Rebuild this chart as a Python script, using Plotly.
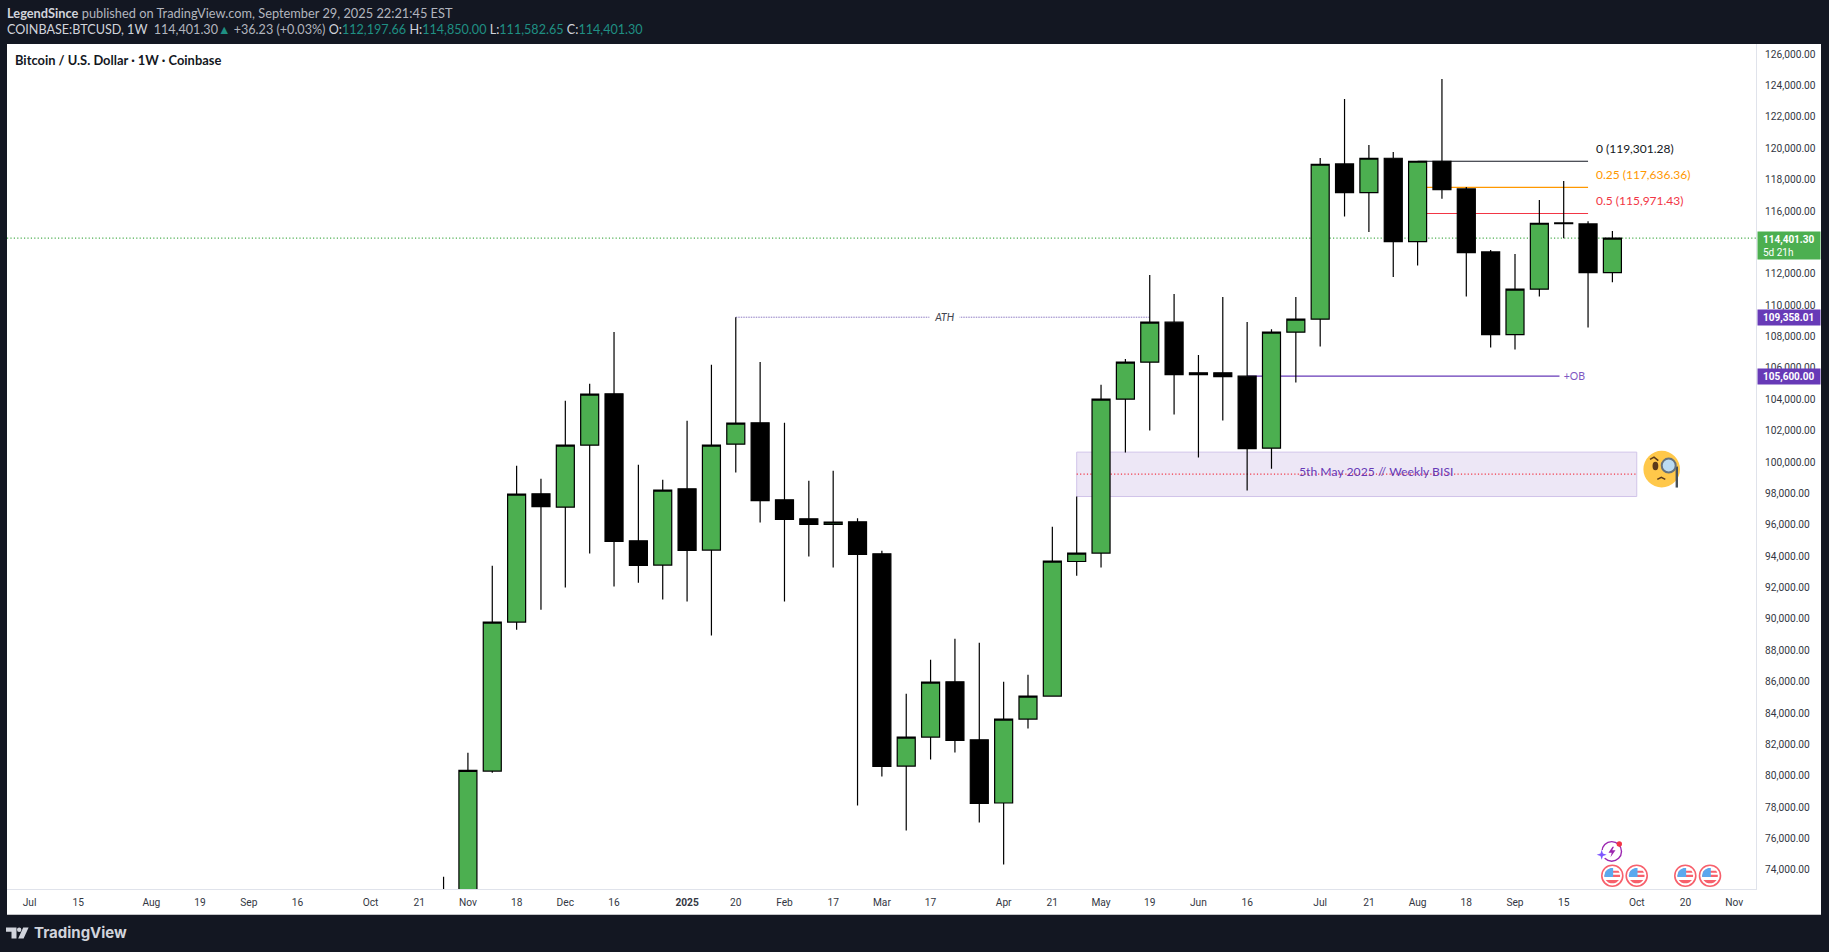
import math
import plotly.graph_objects as go

# weekly candles (Oct 28 body and Nov 4 open/low sit below the visible range)
dates = [
    "2024-10-28", "2024-11-04", "2024-11-11", "2024-11-18", "2024-11-25",
    "2024-12-02", "2024-12-09", "2024-12-16", "2024-12-23", "2024-12-30",
    "2025-01-06", "2025-01-13", "2025-01-20", "2025-01-27",
    "2025-02-03", "2025-02-10", "2025-02-17", "2025-02-24",
    "2025-03-03", "2025-03-10", "2025-03-17", "2025-03-24", "2025-03-31",
    "2025-04-07", "2025-04-14", "2025-04-21", "2025-04-28",
    "2025-05-05", "2025-05-12", "2025-05-19", "2025-05-26",
    "2025-06-02", "2025-06-09", "2025-06-16", "2025-06-23", "2025-06-30",
    "2025-07-07", "2025-07-14", "2025-07-21", "2025-07-28",
    "2025-08-04", "2025-08-11", "2025-08-18", "2025-08-25",
    "2025-09-01", "2025-09-08", "2025-09-15", "2025-09-22", "2025-09-29",
]
opens = [
    67000, 68775, 80423, 89920, 98097,
    97249, 101201, 104470, 95101, 93552,
    98416, 94509, 101265, 102622,
    97714, 96504, 96140, 96312,
    94273, 80742, 82590, 86115, 82418,
    78384, 83737, 85203, 93782,
    94317, 104133, 106491, 109040,
    105809, 105809, 105599, 101010, 108403,
    109231, 119129, 117300, 119493,
    114177, 119301, 117536, 113521,
    108250, 111143, 115369, 115305, 112197.66,
]
highs = [
    73686, 81590, 93508, 99882, 99053,
    104024, 105108, 108422, 99945, 98989,
    102750, 106319, 109358, 106510,
    102622, 98925, 99563, 96548,
    94464, 85350, 87517, 88855, 88600,
    86115, 86561, 95994, 97925,
    105044, 106701, 112055, 110844,
    106956, 110653, 109059, 108594, 110653,
    119512, 123272, 120340, 119894,
    119321, 124547, 117664, 113648,
    113393, 116835, 118046, 115477, 114850.00,
]
lows = [
    66800, 66800, 80315, 89429, 90704,
    92125, 94292, 92189, 92424, 91360,
    91232, 89066, 99454, 96268,
    91232, 94101, 93400, 78231,
    80079, 76637, 81162, 81609, 77147,
    74470, 83138, 85184, 92871,
    93400, 100729, 102131, 103151,
    100411, 102769, 98307, 99690, 105191,
    107485, 115771, 114795, 111927,
    112648, 116918, 110672, 107421,
    107294, 110672, 114394, 108696, 111582.65,
]
closes = [
    68775, 80461, 89920, 98078, 97287,
    101201, 104451, 95057, 93527, 98333,
    94483, 101201, 102603, 97670,
    96459, 96140, 96293, 94228,
    80716, 82590, 86095, 82374, 78359,
    83737, 85203, 93807, 94317,
    104133, 106491, 109040, 105700,
    105700, 105573, 100984, 108403, 109231,
    119110, 117300, 119493, 114177,
    119301, 117492, 113476, 108250,
    111143, 115350, 115324, 112201, 114401.30,
]

# 114,000 is left out, the reference hides it behind the last price tag
y_ticks = [
    74000, 76000, 78000, 80000, 82000, 84000, 86000, 88000, 90000, 92000,
    94000, 96000, 98000, 100000, 102000, 104000, 106000, 108000, 110000,
    112000, 116000, 118000, 120000, 122000, 124000, 126000,
]
x_tick_dates = [
    "2024-07-01", "2024-07-15", "2024-08-05", "2024-08-19", "2024-09-02",
    "2024-09-16", "2024-10-07", "2024-10-21", "2024-11-04", "2024-11-18",
    "2024-12-02", "2024-12-16", "2025-01-06", "2025-01-20", "2025-02-03",
    "2025-02-17", "2025-03-03", "2025-03-17", "2025-04-07", "2025-04-21",
    "2025-05-05", "2025-05-19", "2025-06-02", "2025-06-16", "2025-07-07",
    "2025-07-21", "2025-08-04", "2025-08-18", "2025-09-01", "2025-09-15",
    "2025-10-06", "2025-10-20", "2025-11-03",
]
x_tick_labels = [
    "Jul", "15", "Aug", "19", "Sep", "16", "Oct", "21", "Nov", "18", "Dec", "16",
    "<b>2025</b>", "20", "Feb", "17", "Mar", "17", "Apr", "21", "May", "19",
    "Jun", "16", "Jul", "21", "Aug", "18", "Sep", "15", "Oct", "20", "Nov",
]

fib_levels = [119301.28, 117636.36, 115971.43]
fib_labels = ["0 (119,301.28)", "0.25 (117,636.36)", "0.5 (115,971.43)"]
fib_colors = ["#131722", "#ff9800", "#f23645"]
last_price = 114401.30
ath_price = 109358.01
ob_price = 105600.00
bisi_top = 100755
bisi_bottom = 97925
bisi_mid = 99352

W, H = 1829, 952
LEFT, RIGHT, TOP, BOTTOM = 7, 1756, 44, 889.3
DARK = "#131722"
FONT = "Lato"


def px(x):
    return (x - LEFT) / (RIGHT - LEFT)


def py(y):
    return 1 - (y - TOP) / (BOTTOM - TOP)


def pixel_shape(kind, x0, y0, x1, y1, fill=None, line=None, width=0, layer="above"):
    return dict(
        type=kind, xref="paper", yref="paper", layer=layer,
        x0=px(x0), y0=py(y0), x1=px(x1), y1=py(y1),
        fillcolor=fill or "rgba(0,0,0,0)",
        line=dict(color=line or "rgba(0,0,0,0)", width=width),
    )


def pixel_poly(points, fill=None, line=None, width=0, close=True):
    path = "M " + " L ".join(f"{px(x):.6f},{py(y):.6f}" for x, y in points)
    if close:
        path += " Z"
    return dict(
        type="path", xref="paper", yref="paper", layer="above", path=path,
        fillcolor=fill or "rgba(0,0,0,0)",
        line=dict(color=line or "rgba(0,0,0,0)", width=width),
    )


def circle(cx, cy, r, fill=None, line=None, width=0):
    return pixel_shape("circle", cx - r, cy - r, cx + r, cy + r, fill, line, width)


def disc_band(cx, cy, r, y0, y1, x0=None, x1=None, fill="#f23645"):
    # slice of a disc between two heights, optionally limited on the left/right
    points = []
    steps = 6
    heights = [y0 + (y1 - y0) * i / steps for i in range(steps + 1)]
    for h in heights:
        half = math.sqrt(max(r * r - h * h, 0))
        points.append((cx + (min(half, x1) if x1 is not None else half), cy + h))
    for h in reversed(heights):
        half = math.sqrt(max(r * r - h * h, 0))
        points.append((cx + (max(-half, x0) if x0 is not None else -half), cy + h))
    return pixel_poly(points, fill=fill)


def flag_icon(cx, cy):
    return [
        circle(cx, cy, 10.5, fill="#ffffff", line="#f7606c", width=1.6),
        disc_band(cx, cy, 7.8, -5, -3, fill="#f7606c"),
        disc_band(cx, cy, 7.8, -1, 1.2, fill="#f7606c"),
        disc_band(cx, cy, 7.8, 4.2, 7.6, fill="#f7606c"),
        disc_band(cx, cy, 7.8, -7.6, 1.2, x1=0.8, fill="#5ba8ee"),
    ]


fig = go.Figure()
fig.add_trace(
    go.Candlestick(
        x=dates, open=opens, high=highs, low=lows, close=closes,
        increasing=dict(fillcolor="#4caf50", line=dict(color="#000000", width=1.2)),
        decreasing=dict(fillcolor="#000000", line=dict(color="#000000", width=1.2)),
        whiskerwidth=0, hoverinfo="skip", showlegend=False,
    )
)

shapes = [
    # white chart frame including the price and time scales
    pixel_shape("rect", LEFT, TOP, 1821, 915, fill="#ffffff", layer="below"),
    dict(type="line", xref="paper", yref="y", layer="below", x0=0, x1=1,
         y0=last_price, y1=last_price, line=dict(color="#4caf50", width=1.2, dash="1.2px,2.2px")),
    dict(type="rect", xref="x", yref="y", layer="below", x0="2025-04-28", x1="2025-10-06",
         y0=bisi_bottom, y1=bisi_top, fillcolor="#ede7f6", line=dict(color="#d1c4e9", width=1)),
    dict(type="line", xref="x", yref="y", layer="below", x0="2025-04-28", x1="2025-10-06",
         y0=bisi_mid, y1=bisi_mid, line=dict(color="#f23645", width=1.2, dash="1.2px,2.2px")),
    dict(type="line", xref="x", yref="y", layer="below", x0="2025-01-20", x1="2025-05-19",
         y0=ath_price, y1=ath_price, line=dict(color="#8e7cc3", width=1, dash="1.5px,1px")),
    dict(type="line", xref="x", yref="y", layer="below", x0="2025-06-16", x1="2025-09-22",
         y0=ob_price, y1=ob_price, line=dict(color="#673ab7", width=1.2)),
]
for level, color in zip(fib_levels, fib_colors):
    shapes.append(
        dict(type="line", xref="x", yref="y", layer="below", x0="2025-08-04", x1="2025-09-22",
             y0=level, y1=level, line=dict(color=color, width=1.2))
    )

# monocle face next to the zone
shapes += [
    circle(1661.7, 469.3, 18.3, fill="#ffc84a"),
    pixel_shape("circle", 1652.5, 462, 1658.3, 470.5, fill="#5b3a1a"),
    pixel_poly([(1650, 459.5), (1654, 457.3), (1658.3, 460.7)], line="#5b3a1a", width=1.6, close=False),
    pixel_poly([(1657.3, 479.5), (1661.3, 477.5), (1665.3, 479.5)], line="#5b3a1a", width=1.6, close=False),
    pixel_shape("line", 1676.8, 466.7, 1676.8, 487.7, line="#454f5a", width=2.4),
    circle(1668.7, 465.7, 7, fill="#bcdcf2", line="#66727c", width=2),
]

# event markers on the time scale
shapes += [
    circle(1611.7, 851.7, 9.8, line="#9c27b0", width=1.4),
    circle(1601.7, 855, 4.8, fill="#ffffff"),
    pixel_poly([(1601.7, 850), (1602.9, 853.8), (1606.7, 855), (1602.9, 856.2), (1601.7, 860),
                (1600.5, 856.2), (1596.7, 855), (1600.5, 853.8)], fill="#7e57ff"),
    pixel_poly([(1612.5, 847), (1608.5, 853), (1611.7, 853), (1610.5, 857.5), (1615.5, 850.5),
                (1612.2, 850.5), (1614, 847)], fill="#9c27b0"),
    circle(1619.3, 844.3, 2.7, fill="#f23645"),
]
for flag_x in [1612.3, 1636.7, 1685.3, 1710]:
    shapes += flag_icon(flag_x, 876)

# TradingView logo
shapes += [
    pixel_poly([(6, 927.8), (16.5, 927.8), (16.5, 938.8), (11.5, 938.8), (11.5, 932), (6, 932)], fill="#d1d4dc"),
    circle(19.2, 930, 2.2, fill="#d1d4dc"),
    pixel_poly([(23.2, 927.8), (28.6, 927.8), (23.6, 938.8), (18.2, 938.8)], fill="#d1d4dc"),
]

annotations = []


def text_at(x, y, text, size=13, color="#131722", anchor="left", family=FONT, **kw):
    annotations.append(
        dict(x=px(x), y=py(y), xref="paper", yref="paper", xanchor=anchor, yanchor="middle",
             text=text, showarrow=False, font=dict(family=family, size=size, color=color), **kw)
    )


TEAL = "#1f8f83"
text_at(4.5, 12.5, "<b>LegendSince</b> <span style='color:#b2b5be'>published on TradingView.com, "
                   "September 29, 2025 22:21:45 EST</span>", size=12.8, color="#d1d4dc")
text_at(4.5, 29.5, f"COINBASE:BTCUSD, 1W &nbsp;<span style='color:#b2b5be'>114,401.30</span>"
                   f"<span style='color:{TEAL}'>▲</span> <span style='color:#b2b5be'>+36.23 (+0.03%)</span> "
                   f"O:<span style='color:{TEAL}'>112,197.66</span> H:<span style='color:{TEAL}'>114,850.00</span> "
                   f"L:<span style='color:{TEAL}'>111,582.65</span> C:<span style='color:{TEAL}'>114,401.30</span>",
        size=12.6, color="#d1d4dc")
text_at(13, 60, "<b>Bitcoin / U.S. Dollar · 1W · Coinbase</b>", size=12.9, color="#131722")
text_at(32, 933, "<b>TradingView</b>", size=15, color="#d1d4dc", family="Inter")

# fib labels and drawing texts
for level, label, color in zip(fib_levels, fib_labels, fib_colors):
    annotations.append(
        dict(x=px(1594), y=level, xref="paper", yref="y", xanchor="left", yanchor="middle", yshift=12.6,
             text=label, showarrow=False, font=dict(family=FONT, size=12, color=color))
    )
annotations.append(
    dict(x="2025-03-21", y=ath_price, xref="x", yref="y", text="<i>ATH</i>", showarrow=False,
         bgcolor="#ffffff", width=27, font=dict(family=FONT, size=10.5, color="#434651"))
)
annotations.append(
    dict(x="2025-09-18", y=ob_price, xref="x", yref="y", text="+OB", showarrow=False,
         bgcolor="#ffffff", width=27, font=dict(family=FONT, size=10.5, color="#7e57c2"))
)
annotations.append(
    dict(x="2025-07-23", y=bisi_mid, xref="x", yref="y", yshift=2.5, text="5th May 2025 // Weekly BISI",
         showarrow=False, font=dict(family=FONT, size=12.2, color="#673ab7"))
)

# price scale tags
for price, label, color, box_h in [
    (last_price, "&nbsp;&nbsp;<b>114,401.30</b><br>&nbsp;&nbsp;5d 21h", "#4caf50", 27),
    (ath_price, "&nbsp;&nbsp;<b>109,358.01</b>", "#673ab7", 15),
    (ob_price, "&nbsp;&nbsp;<b>105,600.00</b>", "#673ab7", 15),
]:
    annotations.append(
        dict(x=px(1757), y=price, xref="paper", yref="y", xanchor="left", yanchor="top" if box_h == 27 else "middle",
             yshift=7 if box_h == 27 else 0, width=62, height=box_h, align="left", borderpad=0,
             text=label, showarrow=False, bgcolor=color,
             font=dict(family="Roboto", size=10, color="#ffffff"))
    )

fig.update_layout(
    width=W, height=H, autosize=False,
    margin=dict(l=LEFT, r=W - RIGHT, t=TOP, b=H - BOTTOM, pad=0),
    paper_bgcolor=DARK, plot_bgcolor="#ffffff",
    boxgap=0.26, boxgroupgap=0,
    showlegend=False, shapes=shapes, annotations=annotations,
    xaxis=dict(
        type="date", range=["2024-06-24 12:00", "2025-11-09 06:43"],
        rangeslider=dict(visible=False), showgrid=False, zeroline=False,
        showline=True, linecolor="#e0e3eb", linewidth=1,
        tickmode="array", tickvals=x_tick_dates, ticktext=x_tick_labels, tickangle=0,
        ticks="outside", ticklen=4, tickcolor="rgba(0,0,0,0)",
        tickfont=dict(family="Roboto", size=10.2, color="#333743"),
    ),
    yaxis=dict(
        side="right", range=[72902, 126777], showgrid=False, zeroline=False,
        showline=True, linecolor="#e0e3eb", linewidth=1,
        tickmode="array", tickvals=y_ticks, tickformat=",.2f",
        ticks="outside", ticklen=6, tickcolor="rgba(0,0,0,0)", ticklabelshift=-2,
        tickfont=dict(family="Roboto", size=10.2, color="#333743"),
    ),
)

fig.write_html(
    "out.html",
    config={"displayModeBar": False},
    post_script="document.body.style.margin='0';document.body.style.background='#131722';",
)
